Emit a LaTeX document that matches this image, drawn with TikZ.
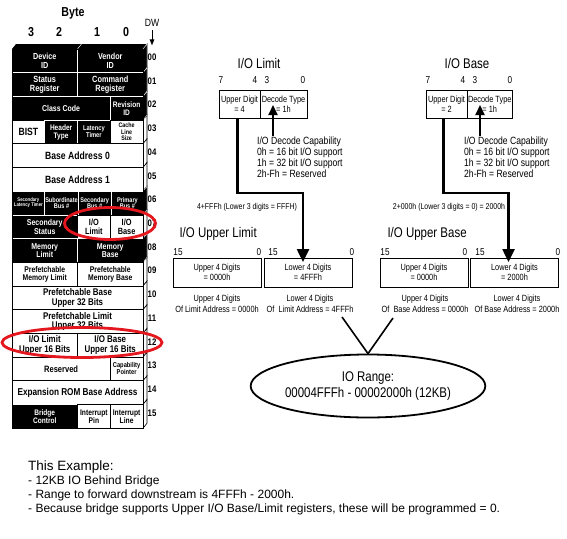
\documentclass[tikz,border=0pt]{standalone}
\usepackage{fontspec}
\setmainfont{Liberation Sans}
\newfontfamily\narrowfont{Liberation Sans}[FakeStretch=0.82]
\usepackage{tikz}
\usetikzlibrary{shapes.geometric,arrows.meta,positioning,calc}
\definecolor{hlred}{RGB}{228,22,30}

\begin{document}
\begin{tikzpicture}[x=1pt, y=-1pt,
  every node/.style={font=\narrowfont},
  fs/.style    ={font=\narrowfont\bfseries\fontsize{#1}{#1}\selectfont},
  cell/.style  ={rectangle, draw, line width=0.8pt, inner sep=0.5pt, outer sep=0pt,
                 minimum height=23.7pt, align=center},
  cellw/.style ={cell, fill=white, text=black},
  cellb/.style ={cell, fill=black, draw=white, text=white},
  span1/.style ={minimum width=32.75pt},
  span2/.style ={minimum width=65.5pt},
  span3/.style ={minimum width=98.25pt},
  span4/.style ={minimum width=131pt},
  dwno/.style  ={font=\narrowfont\bfseries\fontsize{9.5}{9.5}\selectfont},
  regtitle/.style ={font=\narrowfont\fontsize{14}{16}\selectfont},
  bitno/.style ={font=\narrowfont\fontsize{10}{12}\selectfont},
  field/.style ={rectangle, draw, line width=1pt, minimum height=28pt, inner sep=1pt,
                 outer sep=0pt, align=center, font=\narrowfont\fontsize{9}{10}\selectfont},
  capnote/.style  ={anchor=north west, inner sep=0pt, align=left,
                 font=\narrowfont\fontsize{10.5}{11}\selectfont},
  sumlabel/.style={font=\narrowfont\fontsize{8.5}{10}\selectfont},
  digcap/.style ={align=center, font=\narrowfont\fontsize{9}{11.5}\selectfont},
  rangeoval/.style ={ellipse, draw, line width=1.8pt, minimum width=216pt, minimum height=63pt,
                 inner sep=0pt, align=center, font=\narrowfont\fontsize{14}{16.5}\selectfont},
  hilite/.style={ellipse, draw=hlred, line width=2.8pt},
  bus/.style   ={-{Triangle[length=13pt,width=12pt]}, line width=2.5pt},
  ptr/.style   ={-{Triangle[length=10pt,width=9pt]}, line width=2pt},
  veeline/.style   ={line width=1.6pt}
]
  \useasboundingbox (0,0) rectangle (567,538);

  % configuration header
  \node[fs=13] (byte) at (73,13) {Byte};
  \node[fs=13] (col3) at (31,32) {3};
  \node[fs=13] (col2) at (59,32) {2};
  \node[fs=13] (col1) at (97,32) {1};
  \node[fs=13] (col0) at (126,32) {0};
  \node[font=\narrowfont\fontsize{10.5}{10.5}\selectfont] (dwtitle) at (152,23) {DW};

  \fill[black] (12,49) -- (16,44) -- (147,44) -- (143,49) -- cycle;
  \draw[white] (77.5,49) -- (81.5,44);
  \foreach \i in {0,...,15}
    \draw[fill=white, line width=0.6pt] (143,{49+\i*23.7}) -- ++(4,-5) -- ++(0,23.7) -- ++(-4,5) -- cycle;
  \foreach \i in {0,1,2,6,8}
    \draw[fill=black, draw=white, line width=0.4pt] (143,{49+\i*23.7}) -- ++(4,-5) -- ++(0,23.7) -- ++(-4,5) -- cycle;

  \node[cellb, span2, fs=8.8, anchor=north west] (devid) at (12,49) {Device\\ID};
  \node[cellb, span2, fs=8.8, right=0pt of devid] (venid) {Vendor\\ID};
  \node[cellb, span2, fs=9, anchor=north west] (status) at (devid.south west) {Status\\Register};
  \node[cellb, span2, fs=9, right=0pt of status] (command) {Command\\Register};
  \node[cellb, span3, fs=8.5, anchor=north west] (classcode) at (status.south west) {Class Code};
  \node[cellb, span1, fs=8, right=0pt of classcode] (revid) {Revision\\ID};
  \node[cellw, span1, fs=10.5, anchor=north west] (bist) at (classcode.south west) {BIST};
  \node[cellb, span1, fs=8, right=0pt of bist] (hdrtype) {Header\\Type};
  \node[cellb, span1, fs=7, right=0pt of hdrtype] (lattimer) {Latency\\Timer};
  \node[cellw, span1, fs=6.5, right=0pt of lattimer] (cacheline) {Cache\\Line\\Size};
  \node[cellw, span4, fs=10.5, anchor=north west] (bar0) at (bist.south west) {Base Address 0};
  \node[cellw, span4, fs=10.5, anchor=north west] (bar1) at (bar0.south west) {Base Address 1};
  \node[cellb, span1, fs=5.2, anchor=north west] (seclat) at (bar1.south west) {Secondary\\Latency Timer};
  \node[cellb, span1, fs=6.8, right=0pt of seclat] (subbus) {Subordinate\\Bus \#};
  \node[cellb, span1, fs=6.8, right=0pt of subbus] (secbus) {Secondary\\Bus \#};
  \node[cellb, span1, fs=6.8, right=0pt of secbus] (pribus) {Primary\\Bus \#};
  \node[cellb, span2, fs=8.5, anchor=north west] (secstat) at (seclat.south west) {Secondary\\Status};
  \node[cellw, span1, fs=9, right=0pt of secstat] (iolimit) {I/O\\Limit};
  \node[cellw, span1, fs=9, right=0pt of iolimit] (iobase) {I/O\\Base};
  \node[cellb, span2, fs=8.5, anchor=north west] (memlimit) at (secstat.south west) {Memory\\Limit};
  \node[cellb, span2, fs=8.5, right=0pt of memlimit] (membase) {Memory\\Base};
  \node[cellw, span2, fs=8.3, anchor=north west] (pfmemlimit) at (memlimit.south west) {Prefetchable\\Memory Limit};
  \node[cellw, span2, fs=8.3, right=0pt of pfmemlimit] (pfmembase) {Prefetchable\\Memory Base};
  \node[cellw, span4, fs=9.7, anchor=north west] (pfbaseup) at (pfmemlimit.south west) {Prefetchable Base\\Upper 32 Bits};
  \node[cellw, span4, fs=9.7, anchor=north west] (pflimitup) at (pfbaseup.south west) {Prefetchable Limit\\Upper 32 Bits};
  \node[cellw, span2, fs=9.7, anchor=north west] (iolimitup) at (pflimitup.south west) {I/O Limit\\Upper 16 Bits};
  \node[cellw, span2, fs=9.7, right=0pt of iolimitup] (iobaseup) {I/O Base\\Upper 16 Bits};
  \node[cellw, span3, fs=9.2, anchor=north west] (reserved) at (iolimitup.south west) {Reserved};
  \node[cellw, span1, fs=7, right=0pt of reserved] (capptr) {Capability\\Pointer};
  \node[cellw, span4, fs=10, anchor=north west] (exprom) at (reserved.south west) {Expansion ROM Base Address};
  \node[cellb, span2, fs=8, anchor=north west] (bridgectl) at (exprom.south west) {Bridge\\Control};
  \node[cellw, span1, fs=8.2, right=0pt of bridgectl] (intpin) {Interrupt\\Pin};
  \node[cellw, span1, fs=8.2, right=0pt of intpin] (intline) {Interrupt\\Line};
  \draw[line width=0.8pt] (devid.north west) rectangle (intline.south east);

  \foreach \r [count=\i from 0] in {00,01,02,03,04,05,06,07,08,09,10,11,12,13,14,15}
    \node[dwno] (dw\r) at (152,{49+(\i+0.35)*23.7}) {\r};
  \draw[-{Triangle[length=6pt,width=4.5pt]}, line width=1pt] (dwtitle.south) -- ([yshift=5pt]dw00.north);

  % I/O Limit
  \node[regtitle] (limtitle) at (259,63) {I/O Limit};
  \node[bitno] (limb7) at (221,80) {7};
  \node[bitno] (limb4) at (255,80) {4};
  \node[bitno] (limb3) at (267,80) {3};
  \node[bitno] (limb0) at (303,80) {0};
  \node[field, minimum width=41pt] (limup) at (239.5,104) {Upper Digit\\= 4};
  \node[field, minimum width=47pt, right=0pt of limup] (limdec) {Decode Type\\= 1h};
  \node[capnote] (limnote) at (257,137) {I/O Decode Capability\\0h = 16 bit I/O support\\1h = 32 bit I/O support\\2h-Fh = Reserved};
  \node[sumlabel] (limsum) at (247,207) {4+FFFh (Lower 3 digits = FFFH)};

  \node[regtitle, anchor=west] (ultitle) at (176,234) {I/O Upper Limit};
  \node[bitno] (ulb15) at (178,252) {15};
  \node[bitno] (ulb0) at (259,252) {0};
  \node[bitno] (ulc15) at (273,252) {15};
  \node[bitno] (ulc0) at (352,252) {0};
  \node[field, minimum width=88pt, minimum height=29pt] (ulup) at (217,272.5) {Upper 4 Digits\\= 0000h};
  \node[field, minimum width=88pt, minimum height=29pt] (ullow) at (308,272.5) {Lower 4 Digits\\= 4FFFh};
  \node[digcap] (ulupcap) at (217,304) {Upper 4 Digits\\Of Limit Address = 0000h};
  \node[digcap] (ullowcap) at (310,304) {Lower 4 Digits\\Of\ \ Limit Address = 4FFFh};

  % I/O Base
  \node[regtitle] (basetitle) at (467,63) {I/O Base};
  \node[bitno] (baseb7) at (428,80) {7};
  \node[bitno] (baseb4) at (463,80) {4};
  \node[bitno] (baseb3) at (475,80) {3};
  \node[bitno] (baseb0) at (510,80) {0};
  \node[field, minimum width=41pt] (baseup) at (446.5,104) {Upper Digit\\= 2};
  \node[field, minimum width=45pt, right=0pt of baseup] (basedec) {Decode Type\\= 1h};
  \node[capnote] (basenote) at (464,137) {I/O Decode Capability\\0h = 16 bit I/O support\\1h = 32 bit I/O support\\2h-Fh = Reserved};
  \node[sumlabel] (basesum) at (449,207) {2+000h (Lower 3 digits = 0) = 2000h};

  \node[regtitle, anchor=west] (ubtitle) at (384,234) {I/O Upper Base};
  \node[bitno] (ubb15) at (385,252) {15};
  \node[bitno] (ubb0) at (465,252) {0};
  \node[bitno] (ubc15) at (480,252) {15};
  \node[bitno] (ubc0) at (558,252) {0};
  \node[field, minimum width=88pt, minimum height=29pt] (ubup) at (424,272.5) {Upper 4 Digits\\= 0000h};
  \node[field, minimum width=88pt, minimum height=29pt] (ublow) at (514.5,272.5) {Lower 4 Digits\\= 2000h};
  \node[digcap] (ubupcap) at (425,304) {Upper 4 Digits\\Of\ \ Base Address = 0000h};
  \node[digcap] (ublowcap) at (517,304) {Lower 4 Digits\\Of Base Address = 2000h};

  \draw[ptr] ($(limnote.north west)+(16,-1)$) -- ($(limnote.north west |- limdec.south)+(16,-13)$);
  \draw[ptr] ($(basenote.north west)+(16,-1)$) -- ($(basenote.north west |- basedec.south)+(16,-13)$);
  \draw[bus] ([xshift=-2pt]limup.south) -- ++(0,75) -| ([xshift=-5pt,yshift=-4pt]ullow.north);
  \draw[bus] ([xshift=-3pt]baseup.south) -- ++(0,75) -| ([xshift=-6pt,yshift=-4pt]ublow.north);

  % resulting range
  \node[rangeoval] (iorange) at (368,386) {IO Range:\\00004FFFh - 00002000h (12KB)};
  \coordinate (limtail) at (342,317);
  \coordinate (basetail) at (393,318);
  \draw[veeline] (limtail) -- (iorange.north) -- (basetail);

  \node[hilite, minimum width=91pt, minimum height=32pt] (hlio) at (110,223.5) {};
  \node[hilite, minimum width=160pt, minimum height=30pt] (hlioup) at (82,342.5) {};

  \node[anchor=north west, align=left, inner sep=0pt, font=\fontsize{12}{14}\selectfont] (example) at (28,461)
    {{\fontsize{13.5}{14}\selectfont This Example:}\\
     - 12KB IO Behind Bridge\\
     - Range to forward downstream is 4FFFh - 2000h.\\
     - Because bridge supports Upper I/O Base/Limit registers, these will be programmed = 0.};
\end{tikzpicture}
\end{document}
